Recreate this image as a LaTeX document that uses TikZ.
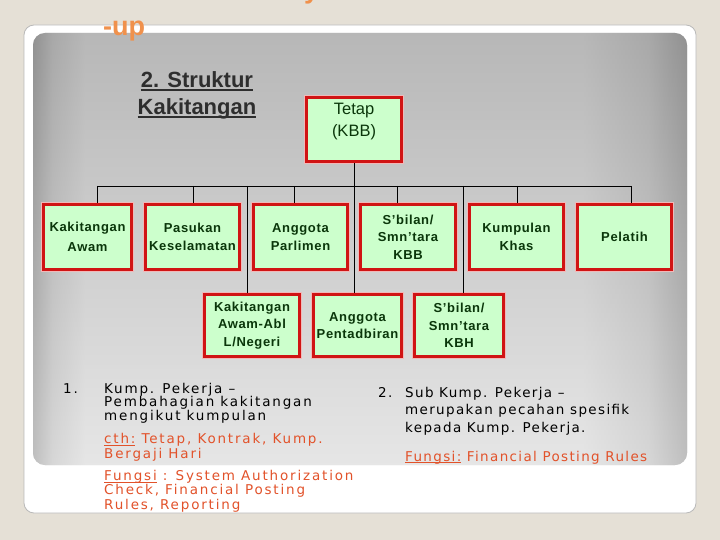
\documentclass[tikz,border=0pt]{standalone}
\usepackage{fontspec}
\setmainfont{Liberation Sans}
\newfontfamily\verd[LetterSpace=13.5]{DejaVu Sans}
\newfontfamily\tah[LetterSpace=10]{DejaVu Sans}
\newfontfamily\bxf[LetterSpace=5]{Liberation Sans}
\definecolor{bgc}{HTML}{E5E0D6}
\definecolor{boxred}{HTML}{D01414}
\definecolor{boxfill}{HTML}{CCFFCC}
\definecolor{boxtext}{HTML}{0A360A}
\definecolor{orng}{HTML}{F0914C}
\definecolor{redtxt}{HTML}{E2522A}
\definecolor{headc}{HTML}{2E2E2E}
\definecolor{pe}{HTML}{8E8E8E}
\definecolor{pe2}{HTML}{BEBEBE}
\definecolor{pmid}{HTML}{DCDCDC}
\definecolor{vtop}{HTML}{949494}
\definecolor{vbot}{HTML}{F0F0F0}
\pgfdeclarehorizontalshading{panelh}{100bp}{color(0bp)=(pe); color(25bp)=(pe); color(26.5bp)=(pe2); color(29bp)=(pmid); color(67bp)=(pmid); color(72bp)=(pe2); color(75bp)=(pe); color(100bp)=(pe)}
\newcommand\myul[1]{\setbox0\hbox{#1}\rlap{\rule[-2pt]{\wd0}{1.2pt}}\box0\relax}
\newcommand\myulh[1]{\setbox0\hbox{#1}\rlap{\rule[-3.2pt]{\wd0}{2pt}}\box0\relax}
\begin{document}
\begin{tikzpicture}[x=1pt,y=-1pt,
  box/.style={draw=boxred, fill=boxfill, line width=3.2pt, inner sep=1pt, align=center,
    text=boxtext, font=\bxf\bfseries\fontsize{13}{17.5}\selectfont,
    preaction={draw=boxred!30, line width=6pt}},
  conn/.style={draw=black, line width=0.9pt},
  lt/.style={inner sep=0pt, align=left, anchor=base west, text=black},
  heading/.style={inner sep=0pt, align=center, anchor=base, text=headc,
    font=\bfseries\fontsize{22}{27}\selectfont}]
\useasboundingbox (0,0) rectangle (720,540);
\fill[bgc] (0,0) rectangle (720,540);
% white frame
\filldraw[fill=white, draw=gray!55, line width=0.8pt, rounded corners=10pt] (24,25) rectangle (696,513);
% gray panel
\shade[shading=panelh, rounded corners=12pt] (33,33) rectangle (687,465);
\shade[top color=vtop, bottom color=vbot, rounded corners=12pt, opacity=0.5] (33,33) rectangle (687,465);
% title remnants
\node[inner sep=0pt, anchor=base west, text=orng, font=\bfseries\fontsize{27}{30}\selectfont] (yy) at (304,-1) {y};
\node[inner sep=0pt, anchor=base west, text=orng, font=\bfseries\fontsize{27}{30}\selectfont] (up) at (103,36) {-up};
% heading (base anchor = last line)
\node[heading] (head) at (197,115) {\myulh{2. Struktur}\\\myulh{Kakitangan}};
% boxes
\node[box, minimum width=94.8pt, minimum height=63.8pt] (tetap) at (354,129.5) {};
\node[inner sep=0pt, anchor=north, align=center, text=boxtext, font=\fontsize{16.5}{22}\selectfont] (tetapt) at ([yshift=-7pt]tetap.north) {Tetap\\(KBB)};
\node[box, minimum width=87.8pt, minimum height=64.8pt] (kawam) at (87.5,237) {Kakitangan\\[2.5pt]Awam};
\node[box, minimum width=93.8pt, minimum height=64.8pt] (pasukan) at (192.5,237) {Pasukan\\Keselamatan};
\node[box, minimum width=93.8pt, minimum height=64.8pt] (parlimen) at (300.5,237) {Anggota\\Parlimen};
\node[box, minimum width=94.8pt, minimum height=64.8pt] (kbb) at (408,237) {S’bilan/\\Smn’tara\\KBB};
\node[box, minimum width=93.8pt, minimum height=64.8pt] (khas) at (516.5,237) {Kumpulan\\Khas};
\node[box, minimum width=93.8pt, minimum height=64.8pt] (pelatih) at (624.5,237) {Pelatih};
\node[box, minimum width=94.8pt, minimum height=61.8pt] (abl) at (252,325.5) {Kakitangan\\Awam-Abl\\L/Negeri};
\node[box, minimum width=87.8pt, minimum height=61.8pt] (pent) at (357.5,325.5) {Anggota\\Pentadbiran};
\node[box, minimum width=88.8pt, minimum height=61.8pt] (kbh) at (459,325.5) {S’bilan/\\Smn’tara\\KBH};
% connectors
\coordinate (busL) at (97,186);
\coordinate (busR) at (631,186);
\coordinate (d2) at (193,186);
\coordinate (d3) at (294,186);
\coordinate (d4) at (397,186);
\coordinate (d5) at (517,186);
\coordinate (d7) at (247,186);
\coordinate (d9) at (463,186);
\draw[conn] (busL) -- (busR);
\draw[conn] (tetap.south) -- (tetap.south |- pent.north);
\draw[conn] (busL) -- (busL |- kawam.north);
\draw[conn] (d2) -- (d2 |- pasukan.north);
\draw[conn] (d3) -- (d3 |- parlimen.north);
\draw[conn] (d4) -- (d4 |- kbb.north);
\draw[conn] (d5) -- (d5 |- khas.north);
\draw[conn] (busR) -- (busR |- pelatih.north);
\draw[conn] (d7) -- (d7 |- abl.north);
\draw[conn] (d9) -- (d9 |- kbh.north);
% list texts left (base anchor = last line)
\node[lt, font=\verd\fontsize{13.5}{13.5}\selectfont] (n1) at (63,393) {1.};
\node[lt, font=\verd\fontsize{13.5}{13.5}\selectfont] (t1) at (104,420) {Kump. Pekerja –\\Pembahagian kakitangan\\mengikut kumpulan};
\node[lt, text=redtxt, font=\verd\fontsize{13.5}{12}\selectfont] (t1b) at (104,458) {\myul{cth:} Tetap, Kontrak, Kump.\\Bergaji Hari};
\node[lt, text=redtxt, font=\verd\fontsize{13.5}{12.5}\selectfont] (t1c) at (104,509) {\myul{Fungsi} : System Authorization\\Check, Financial Posting\\Rules, Reporting};
% list texts right
\node[lt, font=\tah\fontsize{13.5}{17.5}\selectfont] (n2) at (378,397) {2.};
\node[lt, font=\tah\fontsize{13.5}{17.5}\selectfont] (t2) at (405,432) {Sub Kump. Pekerja –\\merupakan pecahan spesifik\\kepada Kump. Pekerja.};
\node[lt, text=redtxt, font=\tah\fontsize{13.5}{17.5}\selectfont] (t2b) at (405,461) {\myul{Fungsi:} Financial Posting Rules};
\end{tikzpicture}
\end{document}
